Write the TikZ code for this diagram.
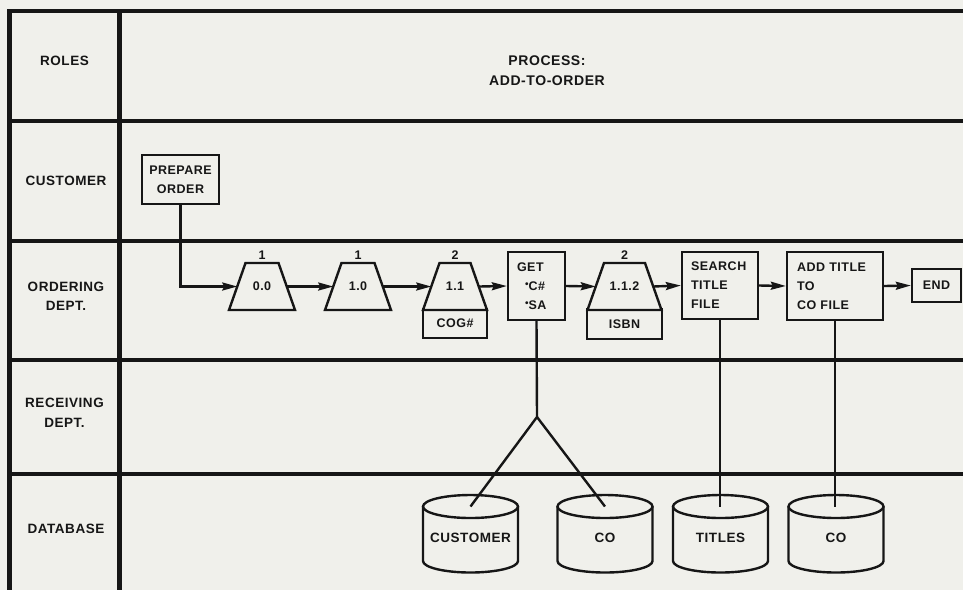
\documentclass[tikz,border=0pt]{standalone}
\usepackage{fontspec}
\setmainfont{Liberation Sans}[LetterSpace=4]
\usetikzlibrary{arrows.meta}

\definecolor{paper}{RGB}{240,240,235}
\definecolor{ink}{RGB}{22,22,22}

% database cylinder: name, centre x, caption
\newcommand\dbcyl[3]{%
  \draw[dbline] (#2-47.5,506.5) -- (#2-47.5,561)
    arc[start angle=180,end angle=0,x radius=47.5,y radius=11.5] -- (#2+47.5,506.5);
  \draw[dbline] (#2,506.5) ellipse[x radius=47.5,y radius=11.5];
  \node[dbtxt] (#1) at (#2,538) {#3};
  \coordinate (#1top) at (#2,506.5);
}
% off-page reference trapezoid: name, centre x, half bottom width, number
\newcommand\trapz[4]{%
  \draw[trapline] (#2-#3,310) -- (#2-#3+16.5,263) -- (#2+#3-16.5,263)
    -- (#2+#3,310) -- cycle;
  \node[boxtxt,inner sep=0pt] (#1) at (#2,286.5) {#4};
  \coordinate (#1w) at (#2-#3+8.25,286.5);
  \coordinate (#1e) at (#2+#3-8.25,286.5);
}
\newcommand\hbul{\raisebox{2.5pt}{\fontsize{10}{10}\selectfont •}}

\begin{document}
\begin{tikzpicture}[x=1pt,y=-1pt,
  lane/.style={draw=ink,line width=3.3pt},
  frame/.style={draw=ink,line width=4.5pt},
  lanetxt/.style={font=\fontsize{13.5}{19.5}\selectfont\bfseries,align=center,text=ink},
  titletxt/.style={font=\fontsize{14}{20}\selectfont\bfseries,align=center,text=ink},
  boxtxt/.style={font=\fontsize{12.5}{19}\selectfont\bfseries,text=ink},
  stepbox/.style={boxtxt,draw=ink,line width=2.4pt,fill=paper,inner sep=0pt},
  trapline/.style={draw=ink,line width=2.4pt,fill=paper,line join=miter},
  numtxt/.style={boxtxt,inner sep=0pt},
  dbline/.style={draw=ink,line width=2.4pt},
  dbtxt/.style={font=\fontsize{13.5}{16}\selectfont\bfseries,text=ink,inner sep=0pt},
  conn/.style={draw=ink,line width=2.4pt},
  arr/.style={conn,-{Stealth[length=15pt,width=8pt,inset=2pt]}}
]
\fill[paper] (0,0) rectangle (963,590);
\useasboundingbox (0,0) rectangle (963,590);

% swim lanes
\foreach \yy in {11,121,241,360,474}
  \draw[lane] (8,\yy) -- (963,\yy);
\draw[frame] (9.5,9) -- (9.5,590);
\draw[frame] (119.5,9) -- (119.5,590);

% lane captions
\node[lanetxt] (lroles) at (64.5,61) {ROLES};
\node[lanetxt] (lcust) at (66,180.5) {CUSTOMER};
\node[lanetxt] (lorder) at (66,296.5) {ORDERING\\DEPT.};
\node[lanetxt] (lrecv) at (64.5,413) {RECEIVING\\DEPT.};
\node[lanetxt] (ldb) at (66,529) {DATABASE};
\node[titletxt] (title) at (547,71) {PROCESS:\\ADD-TO-ORDER};

% customer lane
\node[stepbox,minimum width=77pt,minimum height=49pt,align=center] (prep) at (180.5,179.5) {PREPARE\\ORDER};

% ordering lane
\node[stepbox,minimum width=64pt,minimum height=29pt] (cog) at (455,323.5) {COG\#};
\node[stepbox,minimum width=75pt,minimum height=30pt] (isbn) at (624.5,324) {ISBN};
\trapz{o0}{262}{33}{0.0}
\trapz{o1}{358}{33}{1.0}
\trapz{o11}{455}{32}{1.1}
\trapz{o112}{624.5}{37}{1.1.2}
\node[numtxt] (n0) at (262,255) {1};
\node[numtxt] (n1) at (358,255) {1};
\node[numtxt] (n11) at (455,255) {2};
\node[numtxt] (n112) at (624.5,255) {2};

\node[stepbox,minimum width=57pt,minimum height=68pt,inner xsep=9pt,
  text width=39pt,align=left] (get) at (536.5,286)
  {GET\\\hspace*{8pt}\hbul C\#\\\hspace*{8pt}\hbul SA};
\node[stepbox,minimum width=76pt,minimum height=67pt,inner xsep=9pt,
  text width=58pt,align=left] (search) at (720,285.5) {SEARCH\\TITLE\\FILE};
\node[stepbox,minimum width=96pt,minimum height=68pt,inner xsep=10pt,
  text width=76pt,align=left] (addt) at (835,286) {ADD TITLE\\TO\\CO FILE};
\node[stepbox,minimum width=49pt,minimum height=33pt] (endb) at (936.5,285.5) {END};

% flow
\draw[arr] (prep.south) |- (o0w);
\draw[arr] (o0e) -- (o1w);
\draw[arr] (o1e) -- (o11w);
\draw[arr] (o11e) -- (get.west);
\draw[arr] (get.east) -- (o112w);
\draw[arr] (o112e) -- (search.west);
\draw[arr] (search.east) -- (addt.west);
\draw[arr] (addt.east) -- (endb.west);

% database lane
\dbcyl{dbcust}{470.5}{CUSTOMER}
\dbcyl{dbco}{605}{CO}
\dbcyl{dbtitles}{720.5}{TITLES}
\dbcyl{dbcoo}{836}{CO}

% data access
\coordinate (fork) at (537,417);
\draw[conn] (get.south) -- (fork) -- (dbcusttop);
\draw[conn] (fork) -- (dbcotop);
\draw[conn] (search.south) -- (search.south |- dbtitlestop);
\draw[conn] (addt.south) -- (addt.south |- dbcootop);
\end{tikzpicture}
\end{document}
